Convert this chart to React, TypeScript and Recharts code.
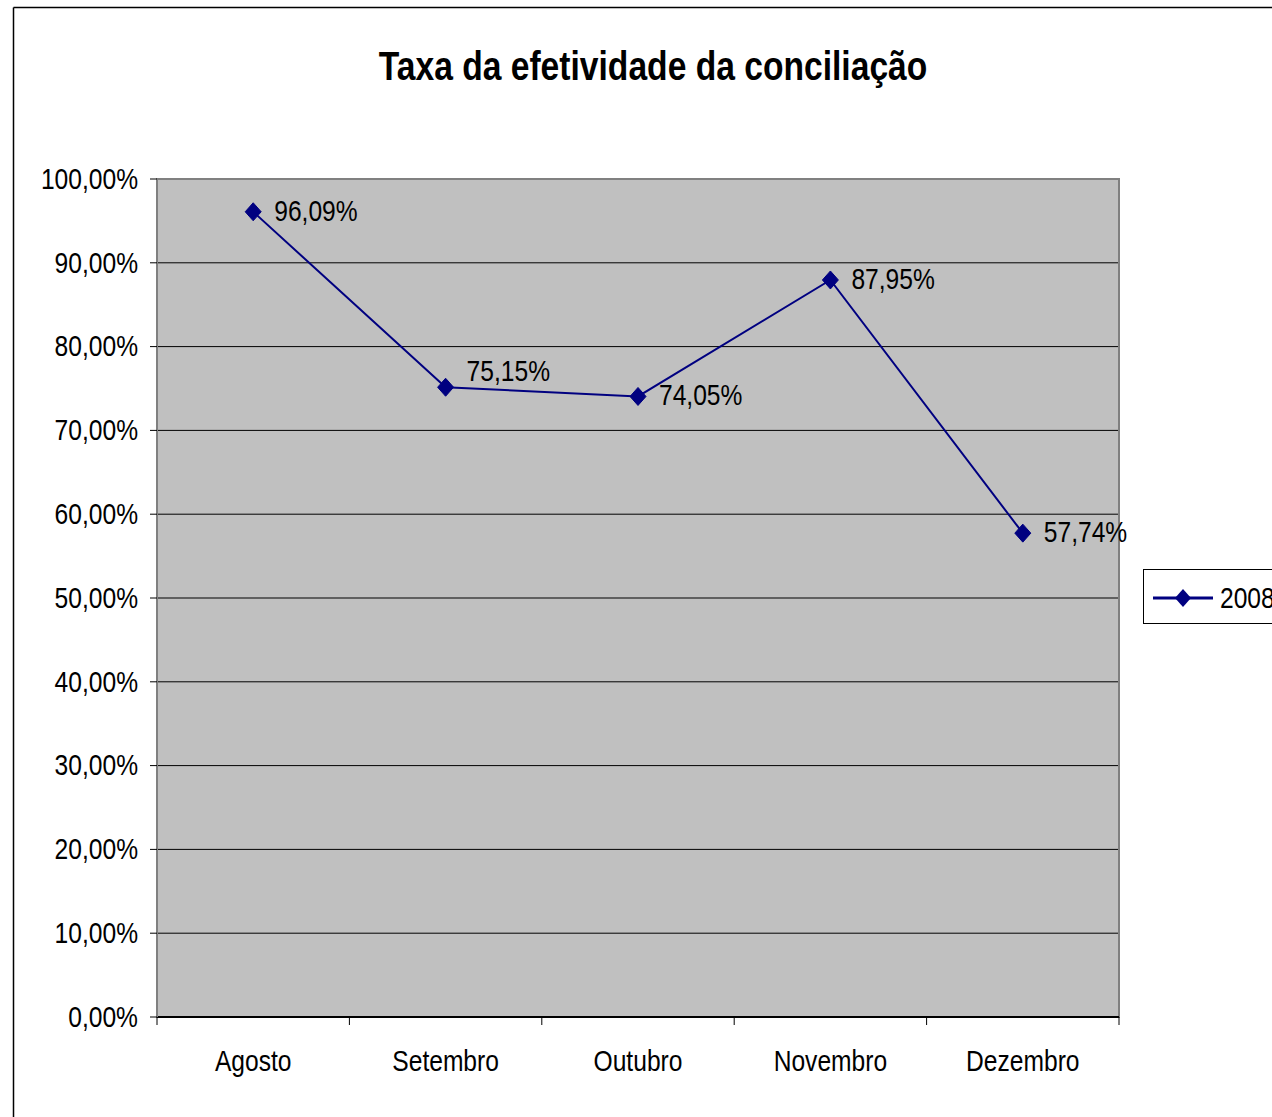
import React from 'react';
import { LineChart, Line, XAxis, YAxis, CartesianGrid, ReferenceArea } from 'recharts';

const categories = ['Agosto', 'Setembro', 'Outubro', 'Novembro', 'Dezembro'];
const values2008 = [0.9609, 0.7515, 0.7405, 0.8795, 0.5774];
const yTicks = [0, 0.1, 0.2, 0.3, 0.4, 0.5, 0.6, 0.7, 0.8, 0.9, 1];
const labelDy = [0, -15, 0, 0, 0];
const seriesName = '2008';
const title = 'Taxa da efetividade da conciliação';

const data = categories.map((c, i) => ({ name: c, v: values2008[i] }));

const FONT = '"Liberation Sans", Arial, sans-serif';
const NAVY = '#000080';
const SX = 0.82;

const fmt = (v: number) => (v * 100).toFixed(2).replace('.', ',') + '%';

const NarrowText = ({ x, y, anchor = 'start', children, size = 30, dy }: any) => (
  <g transform={`translate(${x},${y}) scale(${SX},1)`}>
    <text x={0} y={0} dy={dy} textAnchor={anchor} fontFamily={FONT} fontSize={size} fill="#000">
      {children}
    </text>
  </g>
);

const Diamond = (props: any) => {
  const { cx, cy } = props;
  if (cx == null || cy == null) return null;
  return <path d={`M${cx},${cy - 9} L${cx + 8},${cy} L${cx},${cy + 9} L${cx - 8},${cy} Z`} fill={NAVY} stroke={NAVY} />;
};

const ValueLabel = (props: any) => {
  const { x, y, value, index } = props;
  return (
    <NarrowText x={x + 21} y={y - 2 + (labelDy[index] || 0)} dy="0.36em">
      {fmt(value)}
    </NarrowText>
  );
};

const XTick = (props: any) => {
  const { x, y, payload, index } = props;
  const off = payload.offset || 0;
  const top = y - 12;
  return (
    <g>
      <line x1={x - off} y1={top} x2={x - off} y2={top + 8} stroke="#000" />
      {index === categories.length - 1 && (
        <line x1={x + off} y1={top} x2={x + off} y2={top + 8} stroke="#000" />
      )}
      <NarrowText x={x} y={top + 54} anchor="middle">
        {payload.value}
      </NarrowText>
    </g>
  );
};

const YTick = (props: any) => {
  const { x, y, payload } = props;
  return (
    <NarrowText x={x} y={y - 1} anchor="end" dy="0.36em">
      {fmt(payload.value)}
    </NarrowText>
  );
};

export default function App() {
  return (
    <div style={{ position: 'absolute', left: 0, top: 0, width: 1272, height: 1117, background: '#fff', overflow: 'hidden' }}>
      <svg width={1272} height={1117} style={{ position: 'absolute', left: 0, top: 0 }}>
        <line x1={13.5} y1={7.5} x2={1272} y2={7.5} stroke="#000" strokeWidth={1.5} />
        <line x1={13.5} y1={7.5} x2={13.5} y2={1117} stroke="#000" strokeWidth={1.5} />
        <g transform={`translate(653,80) scale(${SX},1)`}>
          <text x={0} y={0} textAnchor="middle" fontFamily={FONT} fontWeight="bold" fontSize={41} fill="#000">
            {title}
          </text>
        </g>
      </svg>
      <div style={{ position: 'absolute', left: 0, top: 0 }}>
        <LineChart width={1272} height={1117} data={data} margin={{ top: 179, right: 153, bottom: 0, left: 0 }}>
          <CartesianGrid horizontal vertical={false} stroke="#000" fill="#C0C0C0" fillOpacity={1} />
          <ReferenceArea y1={0} y2={1} fill="none" stroke="#808080" strokeWidth={2} ifOverflow="visible" />
          <XAxis
            dataKey="name"
            scale="band"
            height={100}
            axisLine={{ stroke: '#000', strokeWidth: 2 }}
            tickLine={false}
            tickSize={0}
            tickMargin={12}
            tick={<XTick />}
            interval={0}
          />
          <YAxis
            width={157}
            domain={[0, 1]}
            ticks={yTicks}
            interval={0}
            axisLine={{ stroke: '#808080', strokeWidth: 2 }}
            tickLine={{ stroke: '#000' }}
            tickSize={7}
            tickMargin={12}
            tick={<YTick />}
          />
          <Line
            dataKey="v"
            name={seriesName}
            stroke={NAVY}
            strokeWidth={2}
            dot={<Diamond />}
            activeDot={false}
            isAnimationActive={false}
            label={<ValueLabel />}
          />
        </LineChart>
      </div>
      <div
        style={{
          position: 'absolute', left: 1143, top: 569, width: 200, height: 55,
          border: '1px solid #000', boxSizing: 'border-box', background: '#fff',
        }}
      >
        <svg width={129} height={53} style={{ position: 'absolute', left: 0, top: 0 }}>
          <line x1={9} y1={28} x2={69} y2={28} stroke={NAVY} strokeWidth={3} />
          <path d="M39,19 L47,28 L39,37 L31,28 Z" fill={NAVY} />
          <g transform={`translate(76,38) scale(${SX},1)`}>
            <text x={0} y={0} fontFamily={FONT} fontSize={30} fill="#000">{seriesName}</text>
          </g>
        </svg>
      </div>
    </div>
  );
}
